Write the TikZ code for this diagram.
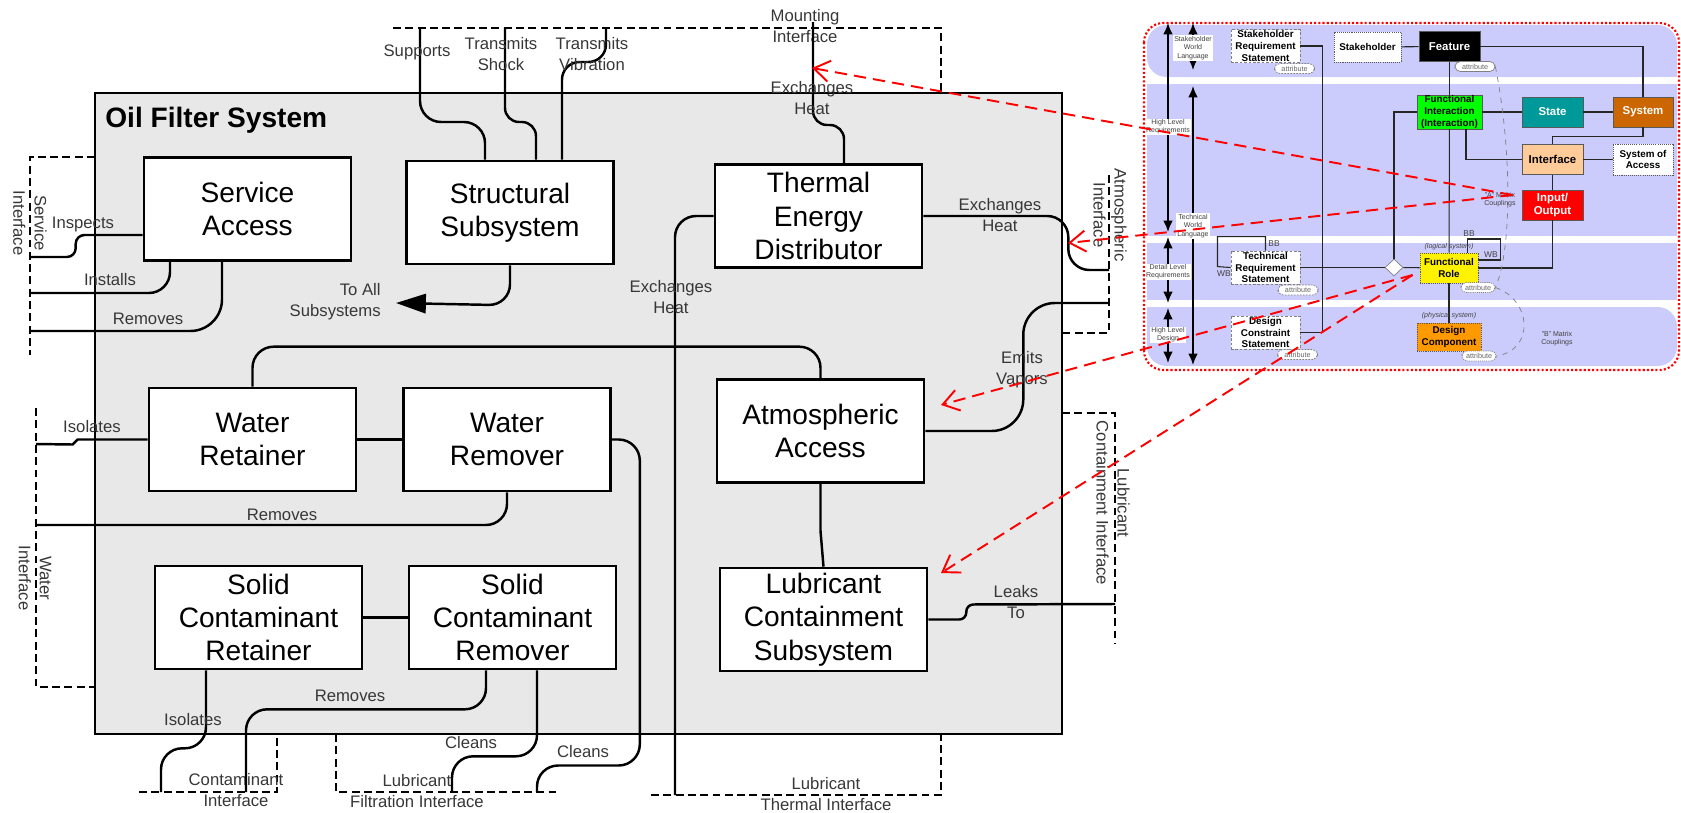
\documentclass[tikz,border=0pt]{standalone}
\usepackage{fontspec}
\setmainfont{Liberation Sans}
\usetikzlibrary{arrows.meta,shapes.geometric}
\definecolor{boxgray}{RGB}{232,232,232}
\definecolor{lavender}{RGB}{204,204,252}
\definecolor{fiGreen}{RGB}{0,255,0}
\definecolor{stTeal}{RGB}{0,153,153}
\definecolor{sysBrown}{RGB}{204,102,0}
\definecolor{ifPeach}{RGB}{255,204,153}
\definecolor{dcOrange}{RGB}{255,153,0}
\definecolor{txtgray}{RGB}{55,55,55}

\begin{document}
\begin{tikzpicture}[x=0.02cm,y=-0.02cm,
  blk/.style={draw,line width=1.5pt,fill=white,minimum width=4.14cm,minimum height=2.06cm,
    align=center,inner sep=0pt,font=\fontsize{16}{19}\selectfont},
  lbl/.style={align=center,inner sep=0pt,text=txtgray,font=\fontsize{9.5}{12}\selectfont},
  cn/.style={line width=1.4pt,rounded corners=12pt},
  iface/.style={line width=1.4pt,dash pattern=on 4.5pt off 2.5pt},
  redarr/.style={red,line width=1.1pt,dash pattern=on 7pt off 4pt,-{Straight Barb[length=9pt,width=12pt]}},
  mm/.style={draw=gray!70!black,line width=0.5pt,minimum width=1.22cm,minimum height=0.6cm,
    inner sep=0pt,align=center,font=\fontsize{6.5}{7.5}\selectfont\bfseries},
  mms/.style={mm,font=\fontsize{5.6}{6.6}\selectfont\bfseries},
  stm/.style={mms,draw=gray,fill=white,dash pattern=on 1.5pt off 1pt,minimum width=1.38cm,minimum height=0.66cm},
  dotb/.style={dash pattern=on 0.6pt off 0.6pt},
  attr/.style={draw=gray,fill=white,rounded corners=3pt,minimum width=0.8cm,minimum height=0.2cm,
    inner sep=0pt,text=gray!80!black,font=\fontsize{4.1}{5}\selectfont},
  tinylbl/.style={inner sep=0.6pt,align=center,text=darkgray,font=\fontsize{4}{4.7}\selectfont},
  lvl/.style={line width=1pt,{Latex[length=6.5pt,width=5.5pt]}-{Latex[length=6.5pt,width=5.5pt]}},
  pl/.style={line width=0.6pt,draw=black!85},
  cpl/.style={gray,dashed,line width=0.4pt}]
\useasboundingbox (0,0) rectangle (1681,812);

% system boundary
\draw[line width=1.5pt,fill=boxgray] (95,93) rectangle (1062,734);
\node[anchor=west,inner sep=0pt,font=\fontsize{16}{19}\selectfont\bfseries] (title) at (105,120) {Oil Filter System};

% interfaces
\draw[iface] (393,28) -- (941,28) -- (941,93);
\draw[iface] (95,157) -- (30,157) -- (30,355);
\draw[iface] (36,408) -- (36,687) -- (95,687);
\draw[iface] (139,792) -- (277,792) -- (277,734);
\draw[iface] (336,734) -- (336,792) -- (560,792);
\draw[iface] (651,795) -- (941,795) -- (941,734);
\draw[iface] (1109,175) -- (1109,333) -- (1062,333);
\draw[iface] (1062,413) -- (1115,413) -- (1115,643);

\node[lbl,rotate=-90] (lSvc) at (30,223) {Service\\Interface};
\node[lbl,rotate=-90] (lWat) at (35,578) {Water\\Interface};
\node[lbl] (lCon) at (236,790) {Contaminant\\Interface};
\node[lbl] (lFil) at (417,791) {Lubricant\\Filtration Interface};
\node[lbl] (lThm) at (826,794) {Lubricant\\Thermal Interface};
\node[lbl,rotate=-90] (lAtm) at (1110,215) {Atmospheric\\Interface};
\node[lbl,rotate=-90] (lLci) at (1113,503) {Lubricant\\Containment Interface};
\node[lbl] (lMnt) at (805,26) {Mounting\\Interface};

% functions
\node[blk] (sa) at (247.5,209) {Service\\Access};
\node[blk] (ss) at (510,212.5) {Structural\\Subsystem};
\node[blk] (ted) at (818.5,216) {Thermal\\Energy\\Distributor};
\node[blk] (wret) at (252.5,439.5) {Water\\Retainer};
\node[blk] (wrem) at (507,439.5) {Water\\Remover};
\node[blk] (scret) at (258.5,617.5) {Solid\\Contaminant\\Retainer};
\node[blk] (screm) at (512.5,617.5) {Solid\\Contaminant\\Remover};
\node[blk] (aa) at (820.5,431) {Atmospheric\\Access};
\node[blk] (lcs) at (823.5,619.5) {Lubricant\\Containment\\Subsystem};

\foreach \n/\x/\y in {sup/420/28, shk/505/28, vib/606/28, mnt/813/22,
  insp/30/257, inst/30/293, rmS/30/331, tedL/675/795, tedR/1109/270,
  emit/1109/303, leak/1115/604, isoW/36/444, rmW/36/525,
  cln2/537/792, cln1/452/792, rmC/246/792, isoC/161/792, toall/396/303,
  pMnt/812/68, pAtm/1068/243, pAA/941/405, pLcs/941/573}
  \coordinate (\n) at (\x,\y);

\draw[cn] (sup) -- ++(0,94) -| ([xshift=-0.5cm]ss.north);
\draw[cn,rounded corners=8pt] (shk) -- ++(0,94) -| ([xshift=0.52cm]ss.north);
\draw[cn,rounded corners=10pt] (vib) -- ++(0,34) -| ([xshift=1.04cm]ss.north);
\draw[cn,rounded corners=8pt] (mnt) -- ++(0,103) -| ([xshift=0.51cm]ted.north);
\draw[cn,-{Triangle[length=17pt,width=11pt]}] (ss.south) -- ++(0,40) -- (toall);
\draw[cn,rounded corners=5pt] ([yshift=-0.52cm]sa.west) -- ++(-67,0) -- ++(0,22) -- (insp);
\draw[cn] ([xshift=-1.55cm]sa.south) |- (inst);
\draw[cn,rounded corners=18pt] ([xshift=-0.51cm]sa.south) |- (rmS);
\draw[cn] (ted.west) -| (tedL);
\draw[cn] (ted.east) -- ++(145,0) |- (tedR);
\draw[cn,rounded corners=18pt] (aa.east) -- ++(98,0) |- (emit);
\draw[cn,rounded corners=4pt] (lcs.east) -- ++(38,0) -- ++(0,-15) -- (leak);
\draw[cn,sharp corners] (aa.south) -- ++(0,47) -- (lcs.north);
\draw[cn] (wret.north) -- ++(0,-40) -| (aa.north);
\draw[cn,sharp corners] (wret.west) -- ++(-70,0) -- ++(-5,5) -- (isoW);
\draw[cn] (wret) -- (wrem);
\draw[cn] (wrem.south) |- (rmW);
\draw[cn] (wrem.east) -| ++(28,326) -| (cln2);
\draw[cn] ([xshift=0.49cm]screm.south) -- ++(0,86) -| (cln1);
\draw[cn] ([xshift=-0.53cm]screm.south) -- ++(0,39) -| (rmC);
\draw[cn] ([xshift=-1.05cm]scret.south) -- ++(0,78) -| (isoC);
\draw[cn] (scret) -- (screm);

\node[lbl] (tSup) at (417,52) {Supports};
\node[lbl] (tShk) at (501,54) {Transmits\\Shock};
\node[lbl] (tVib) at (592,54) {Transmits\\Vibration};
\node[lbl] (tMnt) at (812,98) {Exchanges\\Heat};
\node[lbl,align=right,anchor=east] (tAll) at (381,302) {To All\\Subsystems};
\node[lbl] (tIns) at (83,224) {Inspects};
\node[lbl] (tInst) at (110,280) {Installs};
\node[lbl] (tRmS) at (148,319) {Removes};
\node[lbl] (tTedL) at (671,297) {Exchanges\\Heat};
\node[lbl] (tTedR) at (1000,215) {Exchanges\\Heat};
\node[lbl] (tEmit) at (1022,370) {Emits\\Vapors};
\node[lbl] (tLeak) at (1016,602) {Leaks\\To};
\node[lbl] (tIsoW) at (92,427) {Isolates};
\node[lbl] (tRmW) at (282,515) {Removes};
\node[lbl] (tCln2) at (583,752) {Cleans};
\node[lbl] (tCln1) at (471,743) {Cleans};
\node[lbl] (tRmC) at (350,696) {Removes};
\node[lbl] (tIsoC) at (193,720) {Isolates};

% metamodel panel
\fill[lavender,rounded corners=11pt] (1147,25) rectangle (1677,77);
\fill[lavender] (1620,50) rectangle (1677,77);
\fill[lavender] (1147,84) rectangle (1677,236);
\fill[lavender] (1147,243) rectangle (1677,300);
\fill[lavender,rounded corners=11pt] (1147,307) rectangle (1677,366);
\fill[lavender] (1147,307) rectangle (1200,330);
\draw[red,line width=1.2pt,dash pattern=on 1.2pt off 1.2pt,rounded corners=11pt] (1144,23) rectangle (1679,370);

\foreach \x/\a/\b in {1168/23/232, 1168/237/303, 1168/308/363, 1193/23/70, 1193/86/365}
  \draw[lvl] (\x,\a) -- (\x,\b);
\node[tinylbl,fill=white] (hlr) at (1168,127) {High Level\\Requirements};
\node[tinylbl,fill=white] (dlr) at (1168,272) {Detail Level\\Requirements};
\node[tinylbl,fill=white] (hld) at (1168,335) {High Level\\Design};
\node[tinylbl,fill=white] (swl) at (1193,48) {Stakeholder\\World\\Language};
\node[tinylbl,fill=white] (twl) at (1193,226) {Technical\\World\\Language};

\node[stm] (srs) at (1265.5,46) {Stakeholder\\Requirement\\Statement};
\node[mms,fill=white,dotb,minimum width=1.34cm] (stk) at (1367.5,47) {Stakeholder};
\node[mm,fill=black,text=white] (feat) at (1449.5,46.5) {Feature};
\node[mms,fill=fiGreen,minimum width=1.3cm,minimum height=0.68cm] (fi) at (1449.5,112) {Functional\\Interaction\\(Interaction)};
\node[mm,fill=stTeal,text=white] (state) at (1552.5,112) {State};
\node[mm,fill=sysBrown,text=white,minimum width=1.2cm] (sys) at (1643,112) {System};
\node[mm,fill=ifPeach] (intf) at (1552.5,159.5) {Interface};
\node[mms,fill=white,dotb,minimum width=1.2cm,minimum height=0.62cm] (soa) at (1643,159.5) {System of\\Access};
\node[mm,fill=red,text=white] (io) at (1552.5,205) {Input/\\Output};
\node[stm] (trs) at (1265.5,267.5) {Technical\\Requirement\\Statement};
\node[draw=gray,fill=white,diamond,minimum width=0.36cm,minimum height=0.34cm,inner sep=0pt] (dia) at (1394,267.5) {};
\node[mms,fill=yellow,dotb,minimum width=1.16cm] (fr) at (1449,268) {Functional\\Role};
\node[stm] (dcs) at (1265.5,332.5) {Design\\Constraint\\Statement};
\node[mms,fill=dcOrange,dotb,minimum width=1.28cm,minimum height=0.56cm] (dc) at (1449,337) {Design\\Component};

\draw[pl] (srs.east) -- ++(22,0) |- (dcs.east);
\draw[pl] (stk) -- (feat);
\draw[pl] (feat.east) -| (sys.north);
\draw[pl] (feat) -- (fi);
\draw[pl] (fi) -- (state);
\draw[pl] (state) -- (sys);
\draw[pl] (fi.west) -| (dia.north);
\draw[pl] (fi) -- (fr);
\draw[pl] ([xshift=0.33cm]fi.south) |- (intf.west);
\draw[pl] (sys.south) -- ++(0,9) -| (intf.north);
\draw[pl] (intf) -- (soa);
\draw[pl] (intf) -- (io);
\draw[pl] (io.south) |- (fr.east);
\draw[pl] (trs) -- (dia);
\draw[pl] (dia) -- (fr);
\draw[pl] (fr) -- (dc);
\draw[pl] (trs.north) -- ++(0,-14) -| ++(-48,30) -- (trs.west);
\draw[pl] ([yshift=0.16cm]fr.east) -- ++(22,0) |- ++(-33,-21) -- ++(0,14);

\node[attr,dash pattern=on 1pt off 0.7pt] (aSrs) at (1294.5,68.5) {attribute};
\node[attr] (aFeat) at (1475,66.5) {attribute};
\node[attr,dash pattern=on 1pt off 0.7pt] (aTrs) at (1298,290) {attribute};
\node[attr,dotb,minimum width=0.68cm] (aFr) at (1478,287.5) {attribute};
\node[attr,dash pattern=on 1pt off 0.7pt] (aDcs) at (1297.5,354.5) {attribute};
\node[attr,dotb,minimum width=0.68cm] (aDc) at (1479,356) {attribute};

\draw[cpl] (aFeat.east) .. controls (1512,150) and (1512,250) .. (aFr.east);
\draw[cpl] (aFr.east) .. controls (1532,300) and (1535,350) .. (aDc.east);

\node[tinylbl] (lgs) at (1449,247) {\itshape (logical system)};
\node[tinylbl] (phs) at (1449,316) {\itshape (physical system)};
\node[tinylbl,font=\fontsize{4.8}{5.5}\selectfont] (bb1) at (1274,244) {BB};
\node[tinylbl,font=\fontsize{4.8}{5.5}\selectfont] (wb1) at (1224,274) {WB};
\node[tinylbl,font=\fontsize{4.8}{5.5}\selectfont] (bb2) at (1469,234) {BB};
\node[tinylbl,font=\fontsize{4.8}{5.5}\selectfont] (wb2) at (1491,255) {WB};
\node[tinylbl] (amx) at (1500,200) {"A" Matrix\\Couplings};
\node[tinylbl] (bmx) at (1557,339) {"B" Matrix\\Couplings};

% mapping to the oil filter model
\draw[redarr] ([xshift=-0.18cm,yshift=0.2cm]io.west) -- (pMnt);
\draw[redarr] ([xshift=-0.18cm,yshift=0.2cm]io.west) -- (pAtm);
\draw[redarr] ([xshift=-0.14cm,yshift=-0.14cm]fr.west) -- (pAA);
\draw[redarr] ([xshift=-0.14cm,yshift=-0.14cm]fr.west) -- (pLcs);
\end{tikzpicture}
\end{document}
